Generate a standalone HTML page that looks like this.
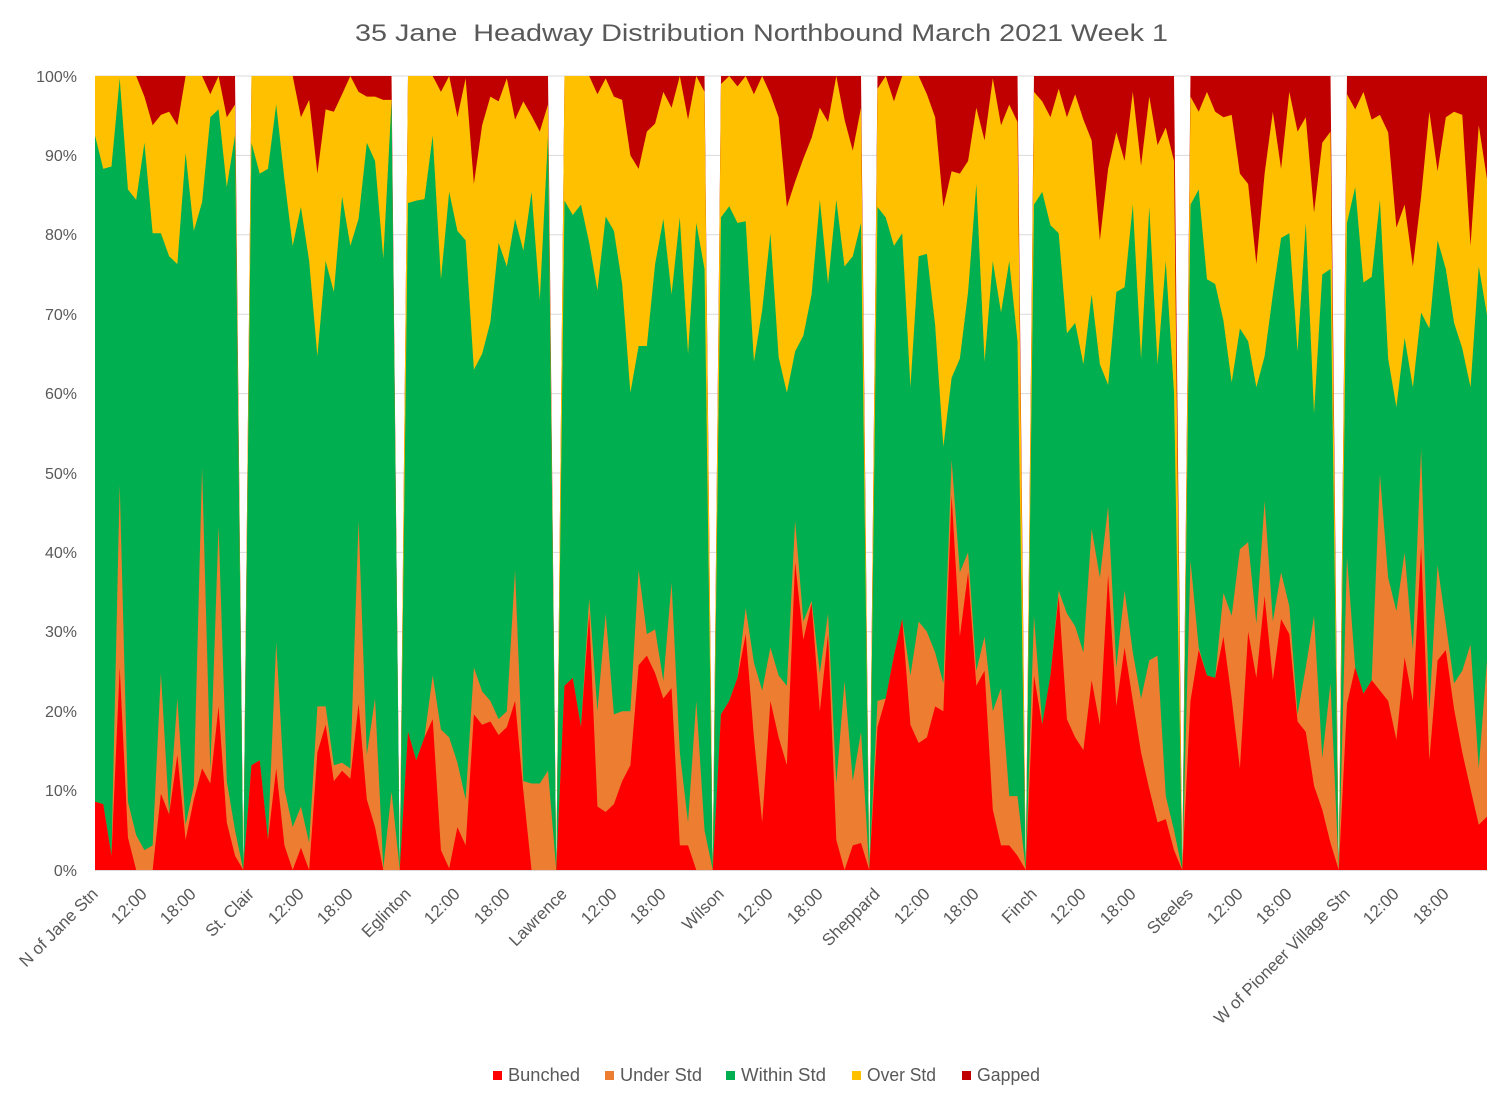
<!DOCTYPE html>
<html>
<head>
<meta charset="utf-8">
<style>
html,body{margin:0;padding:0;background:#fff;}
svg{display:block;}
text{font-family:"Liberation Sans",Arial,sans-serif;fill:#595959;}
</style>
</head>
<body>
<svg width="1501" height="1094" viewBox="0 0 1501 1094" xmlns="http://www.w3.org/2000/svg">
<rect x="0" y="0" width="1501" height="1094" fill="#fff"/>
<text x="355" y="41" font-size="24" textLength="813" lengthAdjust="spacingAndGlyphs" style="white-space:pre">35 Jane  Headway Distribution Northbound March 2021 Week 1</text>

<g stroke="#d9d9d9" stroke-width="1">
<line x1="95" y1="870" x2="1487" y2="870"/>
<line x1="95" y1="790.6" x2="1487" y2="790.6"/>
<line x1="95" y1="711.2" x2="1487" y2="711.2"/>
<line x1="95" y1="631.8" x2="1487" y2="631.8"/>
<line x1="95" y1="552.4" x2="1487" y2="552.4"/>
<line x1="95" y1="473" x2="1487" y2="473"/>
<line x1="95" y1="393.6" x2="1487" y2="393.6"/>
<line x1="95" y1="314.2" x2="1487" y2="314.2"/>
<line x1="95" y1="234.8" x2="1487" y2="234.8"/>
<line x1="95" y1="155.4" x2="1487" y2="155.4"/>
<line x1="95" y1="76" x2="1487" y2="76"/>
</g>

<g font-size="16" text-anchor="end">
<text x="77" y="876">0%</text>
<text x="77" y="796">10%</text>
<text x="77" y="717">20%</text>
<text x="77" y="637">30%</text>
<text x="77" y="558">40%</text>
<text x="77" y="479">50%</text>
<text x="77" y="399">60%</text>
<text x="77" y="320">70%</text>
<text x="77" y="240">80%</text>
<text x="77" y="161">90%</text>
<text x="77" y="82">100%</text>
</g>

<g transform="translate(95,870) scale(8.23669,-7.94)">
<polygon fill="#C00000" points="0,0 0,100 17,100 18,0 19,100 36,100 37,0 38,100 55,100 56,0 57,100 74,100 75,0 76,100 93,100 94,0 95,100 112,100 113,0 114,100 131,100 132,0 133,100 150,100 151,0 152,100 169,100 169,0"/>
<polygon fill="#FFC000" points="0,0 0,100 1,100 2,100 3,100 4,100 5,100 6,97.4 7,93.8 8,95.1 9,95.5 10,93.8 11,100 12,100 13,100 14,97.7 15,100 16,94.8 17,96.4 18,0 19,100 20,100 21,100 22,100 23,100 24,100 25,94.8 26,97 27,87.7 28,95.8 29,95.5 30,97.7 31,100 32,98 33,97.4 34,97.4 35,97 36,97 37,0 38,100 39,100 40,100 41,100 42,98 43,100 44,94.8 45,99.7 46,86.4 47,93.8 48,97.4 49,96.8 50,99.7 51,94.5 52,96.8 53,95 54,93 55,96.4 56,0 57,100 58,100 59,100 60,100 61,97.7 62,99.7 63,97.4 64,97 65,90 66,88.3 67,93 68,94 69,98 70,96 71,100 72,94.5 73,100 74,98 75,0 76,99 77,100 78,98.7 79,100 80,97.7 81,100 82,97.7 83,94.8 84,83.5 85,86.7 86,89.6 87,92.2 88,96 89,94.2 90,100 91,94.5 92,90.6 93,96 94,0 95,98.4 96,100 97,96.8 98,100 99,100 100,100 101,97.7 102,94.8 103,83.5 104,88 105,87.7 106,89.3 107,96 108,91.9 109,99.7 110,93.8 111,96.4 112,94.2 113,0 114,98 115,96.8 116,94.8 117,98.4 118,94.8 119,97.7 120,94.5 121,91.9 122,79.3 123,88.3 124,92.9 125,89.3 126,98 127,88.7 128,97.4 129,91.3 130,93.5 131,89.3 132,0 133,97.4 134,95.5 135,98 136,95.5 137,94.8 138,95.1 139,87.7 140,86.4 141,76.3 142,87.7 143,95.5 144,88.3 145,98 146,93 147,94.8 148,82.8 149,91.6 150,93 151,0 152,97.7 153,95.8 154,98 155,94.5 156,95.1 157,92.9 158,80.9 159,83.8 160,76 161,84.8 162,95.5 163,88 164,94.8 165,95.5 166,95.1 167,78.6 168,93.8 169,87 169,0"/>
<polygon fill="#00B050" points="0,0 0,92.5 1,88.3 2,88.6 3,99.7 4,85.7 5,84.4 6,91.6 7,80.2 8,80.2 9,77.3 10,76.3 11,90.3 12,80.5 13,84.1 14,94.8 15,95.8 16,86 17,92.5 18,0 19,91.6 20,87.7 21,88.3 22,96.4 23,87 24,78.6 25,83.5 26,76.7 27,64.7 28,76.7 29,72.8 30,84.8 31,78.6 32,82 33,91.6 34,89.3 35,77 36,96.8 37,0 38,84 39,84.3 40,84.5 41,92.5 42,74.4 43,85.4 44,80.5 45,79.3 46,63 47,65 48,69 49,79 50,76 51,82 52,78 53,85.4 54,71.8 55,92.5 56,0 57,84.3 58,82.5 59,83.8 60,79 61,73 62,82.3 63,80.5 64,73.8 65,60.1 66,66 67,66 68,76.3 69,82 70,72.5 71,82.2 72,65 73,81.5 74,75.7 75,0 76,82.2 77,83.6 78,81.5 79,81.7 80,64 81,70.5 82,80.2 83,64.6 84,60.1 85,65.3 86,67.3 87,72.5 88,84.4 89,73.8 90,84.4 91,76 92,77.3 93,81.5 94,0 95,83.5 96,82.2 97,78.6 98,80.2 99,60.8 100,77.3 101,77.6 102,68.6 103,53.3 104,62 105,64.4 106,72.8 107,86.4 108,64 109,76.7 110,70.2 111,76.7 112,66.6 113,0 114,83.8 115,85.4 116,81.2 117,80.2 118,67.6 119,68.9 120,63.7 121,72.5 122,63.7 123,61.1 124,72.8 125,73.4 126,83.8 127,64.4 128,83.5 129,63.7 130,76.7 131,60.1 132,0 133,83.8 134,85.7 135,74.4 136,73.8 137,69.2 138,61.4 139,68.2 140,66.6 141,60.8 142,64.7 143,72.5 144,79.6 145,80.2 146,65.3 147,81.5 148,57.5 149,75 150,75.7 151,0 152,81.5 153,86 154,74 155,74.7 156,84.4 157,64.4 158,58.3 159,67 160,60.8 161,70.2 162,68.2 163,79.3 164,75.7 165,68.9 166,65.7 167,60.8 168,76 169,69.9 169,0"/>
<polygon fill="#ED7D31" points="0,0 0,8.6 1,8.3 2,1.8 3,48.5 4,8.6 5,4.4 6,2.5 7,3.1 8,24.8 9,7 10,21.6 11,5.7 12,10.6 13,50.7 14,12.5 15,43.3 16,11.2 17,5 18,0 19,13.2 20,13.8 21,3.8 22,28.7 23,10.2 24,5.4 25,8 26,3.4 27,20.6 28,20.6 29,13.2 30,13.5 31,12.8 32,44 33,14.5 34,21.6 35,0.2 36,9.9 37,0 38,17.4 39,13.8 40,16.7 41,24.5 42,17.7 43,16.7 44,13.5 45,8.9 46,25.5 47,22.5 48,21.3 49,19 50,20 51,37.8 52,11.2 53,10.9 54,10.9 55,12.5 56,0 57,23.2 58,24.2 59,18 60,34.2 61,20 62,32.3 63,19.6 64,20 65,20 66,37.8 67,29.7 68,30.3 69,23.8 70,36.2 71,14.8 72,6 73,21.3 74,5 75,0 76,19.6 77,21.3 78,24.2 79,33 80,26.1 81,22.6 82,28 83,24.5 84,23.2 85,44 86,31.3 87,33.9 88,24.8 89,32.3 90,10.9 91,23.8 92,11.2 93,17.4 94,0 95,21.3 96,21.6 97,27 98,31.6 99,24.5 100,31.3 101,30 102,27.4 103,23.5 104,51.7 105,37.5 106,40 107,25.1 108,29.4 109,20 110,22.9 111,9.3 112,9.3 113,0 114,32 115,18.3 116,24.5 117,35.2 118,32.3 119,30.7 120,27.4 121,43 122,36.8 123,45.8 124,25.5 125,35.2 126,27.4 127,21.6 128,26.4 129,27 130,9.3 131,5 132,0 133,39 134,28 135,24.5 136,24.2 137,34.9 138,32 139,40.4 140,41.3 141,31 142,46.5 143,31.3 144,37.5 145,33.2 146,19.6 147,25.5 148,32 149,14.1 150,23.5 151,0 152,39.4 153,25.5 154,22.2 155,23.9 156,49.8 157,36.8 158,32.6 159,40 160,27.7 161,53 162,20 163,38.4 164,31 165,23.5 166,25.1 167,28.4 168,12.8 169,26.4 169,0"/>
<polygon fill="#FF0000" points="0,0 0,8.6 1,8.3 2,1.8 3,25.5 4,4.1 5,0 6,0 7,0 8,9.6 9,7 10,14.5 11,3.8 12,8.9 13,12.8 14,10.9 15,20.6 16,6 17,1.8 18,0 19,13.2 20,13.8 21,3.8 22,12.8 23,3.1 24,0 25,2.8 26,0 27,14.8 28,18.3 29,11.2 30,12.5 31,11.5 32,20.9 33,8.9 34,5.4 35,0 36,0 37,0 38,17.4 39,13.8 40,16.7 41,19 42,2.5 43,0.2 44,5.4 45,3.1 46,19.6 47,18.3 48,18.7 49,17 50,18 51,21.3 52,10 53,0 54,0 55,0 56,0 57,23.2 58,24.2 59,18 60,32.3 61,8 62,7.3 63,8.3 64,11.2 65,13.2 66,25.8 67,27 68,24.8 69,21.6 70,22.9 71,3.1 72,3.1 73,0 74,0 75,0 76,19.6 77,21.3 78,24.2 79,29.7 80,16.7 81,6 82,21.3 83,16.7 84,13.2 85,38.8 86,29 87,33.6 88,20 89,29.7 90,3.8 91,0 92,3.1 93,3.4 94,0 95,18 96,21.6 97,27 98,31.6 99,18.3 100,16 101,16.7 102,20.6 103,20 104,47.2 105,29.4 106,37.5 107,23.2 108,25.1 109,7.6 110,3.1 111,3.1 112,1.8 113,0 114,24.5 115,18.3 116,24.5 117,34.5 118,19 119,16.7 120,15.1 121,23.9 122,18.3 123,37.2 124,20.6 125,28 126,21.3 127,14.8 128,10.2 129,6 130,6.4 131,2.5 132,0 133,21.3 134,27.7 135,24.5 136,24.2 137,29.4 138,21.6 139,12.8 140,30 141,24.2 142,34.5 143,23.9 144,31.6 145,29.7 146,18.7 147,17.4 148,10.6 149,7.6 150,3.4 151,0 152,20.9 153,25.5 154,22.2 155,23.9 156,22.6 157,21.3 158,16.4 159,26.8 160,21.3 161,40.7 162,13.8 163,26.4 164,27.7 165,20.3 166,14.8 167,10.2 168,5.7 169,6.7 169,0"/>
</g>

<line x1="95" y1="870.5" x2="1487" y2="870.5" stroke="#d9d9d9" stroke-width="1"/>

<g font-size="17" text-anchor="end">
<text transform="translate(99,895) rotate(-45)">N of Jane Stn</text>
<text transform="translate(148,895) rotate(-45)">12:00</text>
<text transform="translate(197,895) rotate(-45)">18:00</text>
<text transform="translate(255,895) rotate(-45)">St. Clair</text>
<text transform="translate(305,895) rotate(-45)">12:00</text>
<text transform="translate(354,895) rotate(-45)">18:00</text>
<text transform="translate(412,895) rotate(-45)">Eglinton</text>
<text transform="translate(461,895) rotate(-45)">12:00</text>
<text transform="translate(511,895) rotate(-45)">18:00</text>
<text transform="translate(568,895) rotate(-45)">Lawrence</text>
<text transform="translate(618,895) rotate(-45)">12:00</text>
<text transform="translate(667,895) rotate(-45)">18:00</text>
<text transform="translate(725,895) rotate(-45)">Wilson</text>
<text transform="translate(774,895) rotate(-45)">12:00</text>
<text transform="translate(824,895) rotate(-45)">18:00</text>
<text transform="translate(881,895) rotate(-45)">Sheppard</text>
<text transform="translate(931,895) rotate(-45)">12:00</text>
<text transform="translate(980,895) rotate(-45)">18:00</text>
<text transform="translate(1038,895) rotate(-45)">Finch</text>
<text transform="translate(1087,895) rotate(-45)">12:00</text>
<text transform="translate(1137,895) rotate(-45)">18:00</text>
<text transform="translate(1194,895) rotate(-45)">Steeles</text>
<text transform="translate(1244,895) rotate(-45)">12:00</text>
<text transform="translate(1293,895) rotate(-45)">18:00</text>
<text transform="translate(1351,895) rotate(-45)">W of Pioneer Village Stn</text>
<text transform="translate(1400,895) rotate(-45)">12:00</text>
<text transform="translate(1450,895) rotate(-45)">18:00</text>
</g>

<g font-size="18">
<rect x="493" y="1071" width="9" height="9" fill="#FF0000"/>
<text x="508" y="1081" textLength="72" lengthAdjust="spacingAndGlyphs">Bunched</text>
<rect x="605" y="1071" width="9" height="9" fill="#ED7D31"/>
<text x="620" y="1081" textLength="82" lengthAdjust="spacingAndGlyphs">Under Std</text>
<rect x="726" y="1071" width="9" height="9" fill="#00B050"/>
<text x="741" y="1081" textLength="85" lengthAdjust="spacingAndGlyphs">Within Std</text>
<rect x="852" y="1071" width="9" height="9" fill="#FFC000"/>
<text x="867" y="1081" textLength="69" lengthAdjust="spacingAndGlyphs">Over Std</text>
<rect x="962" y="1071" width="9" height="9" fill="#C00000"/>
<text x="977" y="1081" textLength="63" lengthAdjust="spacingAndGlyphs">Gapped</text>
</g>
</svg>
</body>
</html>
